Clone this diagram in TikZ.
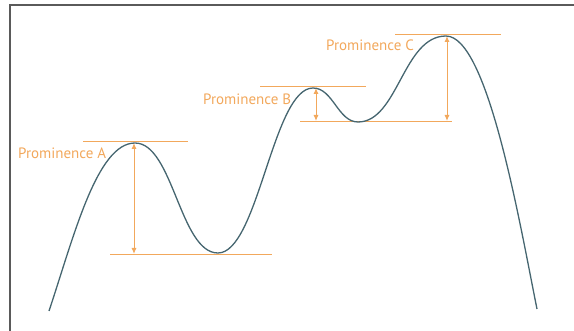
\documentclass[tikz,border=0pt]{standalone}
\usepackage{fontspec}
\setmainfont{PT Sans}
\usetikzlibrary{arrows.meta}
\definecolor{prom}{RGB}{242,168,92}
\definecolor{ridge}{RGB}{70,102,112}
\definecolor{frame}{RGB}{90,90,90}
\tikzset{
  level/.style={prom, line width=1pt},
  promarrow/.style={prom, line width=1pt, {Latex[length=6pt,width=5pt]}-{Latex[length=6pt,width=5pt]}},
  lbl/.style={prom, font=\fontsize{15}{17}\selectfont, inner sep=0pt},
  curve/.style={ridge, line width=1.3pt}
}
\begin{document}
\begin{tikzpicture}[x=1pt,y=-1pt]
\useasboundingbox (0,0) rectangle (574,331);
% frame
\draw[frame, line width=1.2pt] (10,331) -- (10,5) -- (574,5);
% key points
\coordinate (s) at (49,311);
\coordinate (pA) at (135,143);
\coordinate (tA) at (218,253);
\coordinate (pB) at (313,88);
\coordinate (tB) at (358,122);
\coordinate (pC) at (446,36);
\coordinate (e) at (537,309);
% level lines
\coordinate (a1) at (83,142); \coordinate (a2) at (188,142);
\coordinate (a3) at (110,255); \coordinate (a4) at (272,255);
\coordinate (b1) at (260,87); \coordinate (b2) at (366,87);
\coordinate (b3) at (300,122); \coordinate (b4) at (452,122);
\coordinate (c1) at (395,35); \coordinate (c2) at (501,35);
\draw[level] (a1) -- (a2);
\draw[level] (a3) -- (a4);
\draw[level] (b1) -- (b2);
\draw[level] (b3) -- (b4);
\draw[level] (c1) -- (c2);
% arrows
\coordinate (aT) at (134,143); \coordinate (aB) at (134,254);
\coordinate (bT) at (316,88); \coordinate (bB) at (316,121);
\coordinate (cT) at (447,36); \coordinate (cB) at (447,121);
\draw[promarrow] (aT) -- (aB);
\draw[promarrow] (bT) -- (bB);
\draw[promarrow] (cT) -- (cB);
% curve
\draw[curve] (s) .. controls (74,236) and (97,143) .. (pA)
  .. controls (173,143) and (180,253) .. (tA)
  .. controls (258,253) and (273,88) .. (pB)
  .. controls (333,88) and (338,122) .. (tB)
  .. controls (398,122) and (403,36) .. (pC)
  .. controls (488,36) and (520,225) .. (e);
% labels
\node[lbl, anchor=west] (lA) at (18,153) {Prominence A};
\node[lbl, anchor=west] (lB) at (203,99) {Prominence B};
\node[lbl, anchor=west] (lC) at (326,45) {Prominence C};
\end{tikzpicture}
\end{document}
